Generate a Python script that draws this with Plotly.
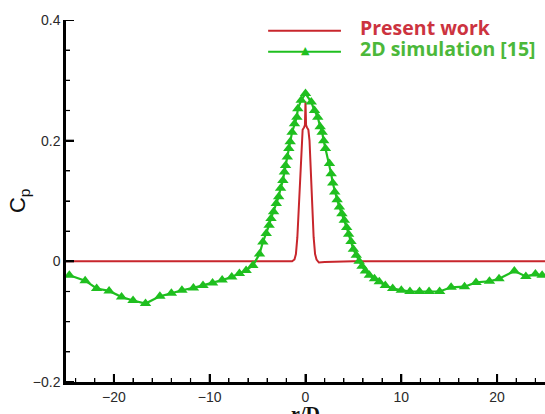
import plotly.graph_objects as go

# Pressure coefficient along r/D
present_r = [-25, -10, -5, -2, -1.4, -1.15, -1.0, -0.85, -0.7, -0.55, -0.42, -0.3, -0.15,
             -0.06, 0.0, 0.06, 0.15, 0.3, 0.42, 0.55, 0.7, 0.85, 1.0, 1.15, 1.4, 2, 5, 10, 25]
present_cp = [0.0, 0.0, 0.0, 0.0, 0.0, 0.003, 0.012, 0.04, 0.09, 0.15, 0.2, 0.218, 0.222,
              0.226, 0.265, 0.226, 0.222, 0.218, 0.2, 0.15, 0.09, 0.04, 0.012, 0.003, -0.002, -0.001, 0.0, 0.0, 0.0]

sim_r = [-24.65, -23.0, -21.8, -20.5, -19.2, -18.0, -16.7, -15.2, -14.0, -12.9, -11.7, -10.7,
         -9.7, -8.7, -7.7, -6.9, -6.2, -5.5, -4.8, -4.45, -4.1, -3.8, -3.6, -3.33, -3.05, -2.8,
         -2.6, -2.36, -2.2, -2.08, -1.9, -1.74, -1.6, -1.4, -1.15, -0.9, -0.8, -0.45, 0.0,
         0.6, 0.94, 1.28, 1.53, 1.74, 1.9, 2.08, 2.5, 2.68, 2.85, 3.05, 3.3, 3.54, 3.8, 4.05,
         4.3, 4.5, 4.75, 5.0, 5.3, 5.6, 5.9, 6.25, 6.67, 7.2, 7.7, 8.33, 9.1, 10.0, 10.9, 11.9,
         12.9, 14.0, 15.2, 16.6, 17.8, 19.2, 20.2, 21.8, 23.0, 24.0, 24.7]
sim_cp = [-0.023, -0.032, -0.045, -0.049, -0.059, -0.065, -0.070, -0.058, -0.053, -0.048, -0.044, -0.040,
          -0.036, -0.031, -0.026, -0.020, -0.015, -0.007, 0.012, 0.032, 0.046, 0.060, 0.071, 0.082, 0.096, 0.107,
          0.121, 0.134, 0.148, 0.159, 0.173, 0.187, 0.198, 0.214, 0.228, 0.239, 0.253, 0.267, 0.278,
          0.264, 0.250, 0.239, 0.223, 0.214, 0.200, 0.187, 0.162, 0.145, 0.130, 0.115, 0.102, 0.090, 0.079, 0.068,
          0.056, 0.045, 0.033, 0.020, 0.010, 0.0, -0.008, -0.016, -0.023, -0.029, -0.034, -0.040, -0.045, -0.048, -0.050, -0.050,
          -0.050, -0.050, -0.043, -0.042, -0.035, -0.033, -0.029, -0.016, -0.025, -0.021, -0.023]

legend_names = ["Present work", "2D simulation [15]"]

x_major = [-20, -10, 0, 10, 20]
y_major = [-0.2, 0.0, 0.2, 0.4]

RED = "#c8262c"
GREEN = "#1fbf1f"

fig = go.Figure()
fig.add_trace(go.Scatter(x=present_r, y=present_cp, mode="lines",
                         line=dict(color=RED, width=2), name=legend_names[0],
                         showlegend=False))
fig.add_trace(go.Scatter(x=sim_r, y=sim_cp, mode="lines+markers",
                         line=dict(color=GREEN, width=2.2),
                         marker=dict(symbol="triangle-up", size=10, color=GREEN),
                         name=legend_names[1], showlegend=False))

tick_font = dict(family="Liberation Sans", size=14, color="#2a2a2a")

# Tecplot-style axes: thick black lines, inward major and minor ticks
fig.update_xaxes(range=[-25, 25], tick0=0, dtick=10,
                 showline=True, linecolor="black", linewidth=2.5,
                 ticks="inside", ticklen=8, tickwidth=2, tickcolor="black",
                 minor=dict(ticks="inside", dtick=2, ticklen=4, tickwidth=1.2, tickcolor="black"),
                 tickfont=tick_font, showgrid=False, zeroline=False)
fig.update_yaxes(range=[-0.2, 0.4], tick0=0, dtick=0.2,
                 showline=True, linecolor="black", linewidth=2.5,
                 ticks="inside", ticklen=8, tickwidth=2, tickcolor="black",
                 minor=dict(ticks="inside", dtick=0.05, ticklen=4, tickwidth=1.2, tickcolor="black"),
                 tickfont=tick_font, showgrid=False, zeroline=False)

shapes = []
annotations = []

# Inward tick marks pinned to the axis lines, placed in data units
x_minor = [v for v in range(-24, 25, 2) if v % 10]
y_minor = [k * 0.05 for k in range(-3, 8) if k % 4]
for v, ln, lw in [(v, 8, 2) for v in x_major] + [(v, 4, 1.2) for v in x_minor]:
    shapes.append(dict(type="line", xref="x", yref="paper", ysizemode="pixel", yanchor=0,
                       x0=v, x1=v, y0=0, y1=ln, line=dict(color="black", width=lw)))
for v, ln, lw in [(v, 8, 2) for v in y_major] + [(v, 4, 1.2) for v in y_minor]:
    shapes.append(dict(type="line", yref="y", xref="paper", xsizemode="pixel", xanchor=0,
                       y0=v, y1=v, x0=0, x1=ln, line=dict(color="black", width=lw)))

# Legend in the upper right: sample lines plus labels
legend_rows = [(0.97, RED, "#cc3340", False), (0.912, GREEN, "#4cb83a", True)]
for (yy, lc, tc, has_marker), name in zip(legend_rows, legend_names):
    shapes.append(dict(type="line", xref="paper", yref="paper",
                       x0=0.422, x1=0.574, y0=yy, y1=yy,
                       line=dict(color=lc, width=2)))
    if has_marker:
        annotations.append(dict(x=0.5, y=yy + 0.004, xref="paper", yref="paper",
                                text="▲", showarrow=False, xanchor="center", yanchor="middle",
                                font=dict(family="DejaVu Sans", size=11, color=lc)))
    annotations.append(dict(x=0.61, y=yy + 0.01, xref="paper", yref="paper",
                            text=f"<b>{name}</b>", showarrow=False,
                            xanchor="left", yanchor="middle",
                            font=dict(family="Open Sans", size=19.5, color=tc)))

annotations.append(dict(x=0.5, y=-0.052, xref="paper", yref="paper",
                        text="<b>r/D</b>", showarrow=False, xanchor="center", yanchor="top",
                        font=dict(family="Liberation Serif", size=20, color="#111")))
annotations.append(dict(x=-0.098, y=0.5, xref="paper", yref="paper",
                        text="C<sub>p</sub>", showarrow=False, textangle=-90,
                        xanchor="center", yanchor="middle",
                        font=dict(family="Liberation Sans", size=22, color="#111")))

fig.update_layout(width=545, height=414,
                  margin=dict(l=66, r=0, t=20, b=32),
                  plot_bgcolor="white", paper_bgcolor="white",
                  shapes=shapes, annotations=annotations, showlegend=False)

fig.write_html("out.html")
